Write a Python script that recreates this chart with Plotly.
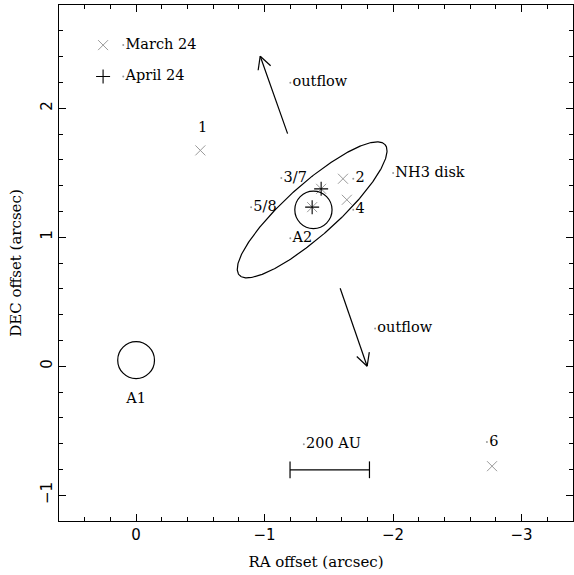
import numpy as np
import plotly.graph_objects as go

# --- maser spot positions (arcsec offsets) ---
march_ra = [-0.50, -1.61, -1.44, -1.64, -1.37, -2.77]
march_dec = [1.673, 1.453, 1.375, 1.29, 1.233, -0.775]
april_ra = [-1.44, -1.37]
april_dec = [1.375, 1.233]

# legend symbols
legend_x_ra = [0.257]
legend_x_dec = [2.489]
legend_p_ra = [0.257]
legend_p_dec = [2.246]

# labels drawn with an anchor dot
label_text = ["March 24", "April 24", "outflow", "outflow", "3/7", "5/8",
              "2", "4", "A2", "NH3 disk", "200 AU", "6"]
label_ra = [0.10, 0.10, -1.20, -1.86, -1.13, -0.895, -1.69, -1.69, -1.20, -2.00, -1.305, -2.73]
label_dec = [2.489, 2.246, 2.197, 0.293, 1.458, 1.233, 1.453, 1.212, 0.992, 1.497, -0.606, -0.588]

# centred labels without anchor dot
plain_text = ["1", "A1"]
plain_ra = [-0.517, 0.0]
plain_dec = [1.84, -0.26]

# continuum sources (centre ra, centre dec, radius)
src_ra = [0.0, -1.38]
src_dec = [0.047, 1.212]
src_r = [0.143, 0.145]

# NH3 disk ellipse: centre, semi-axes, tilt (deg, counter-clockwise on sky plot)
disk_ra, disk_dec = -1.37, 1.212
disk_a, disk_b, disk_tilt = 0.76, 0.20, 41.7

# outflow arrows: tail and head
arrow_tail_ra = [-1.179, -1.588]
arrow_tail_dec = [1.803, 0.604]
arrow_head_ra = [-0.966, -1.798]
arrow_head_dec = [2.403, 0.0]

# 200 AU scale bar
bar_ra = [-1.198, -1.816]
bar_dec = [-0.803, -0.803]

SERIF = "DejaVu Serif"
fig = go.Figure()

# disk ellipse
t = np.linspace(0, 2 * np.pi, 361)
th = np.radians(disk_tilt)
u = disk_a * np.cos(t) * np.cos(th) - disk_b * np.sin(t) * np.sin(th)
v = disk_a * np.cos(t) * np.sin(th) + disk_b * np.sin(t) * np.cos(th)
fig.add_trace(go.Scatter(x=disk_ra - u, y=disk_dec + v, mode="lines",
                         line=dict(color="black", width=1.2), hoverinfo="skip"))

# source circles
for cx, cy, r in zip(src_ra, src_dec, src_r):
    fig.add_shape(type="circle", xref="x", yref="y",
                  x0=cx + r, x1=cx - r, y0=cy - r, y1=cy + r,
                  line=dict(color="black", width=1.2))

# outflow arrows with open heads
barb_len, barb_ang = 0.11, np.radians(28)
for tx, ty, hx, hy in zip(arrow_tail_ra, arrow_tail_dec, arrow_head_ra, arrow_head_dec):
    d = np.array([tx - hx, ty - hy])
    d = d / np.hypot(*d)
    pts_x, pts_y = [tx, hx], [ty, hy]
    for s in (1, -1):
        c, sn = np.cos(s * barb_ang), np.sin(s * barb_ang)
        bx = hx + barb_len * (c * d[0] - sn * d[1])
        by = hy + barb_len * (sn * d[0] + c * d[1])
        pts_x += [None, hx, bx]
        pts_y += [None, hy, by]
    fig.add_trace(go.Scatter(x=pts_x, y=pts_y, mode="lines",
                             line=dict(color="black", width=1.2), hoverinfo="skip"))

# scale bar
fig.add_trace(go.Scatter(x=bar_ra, y=bar_dec, mode="lines+markers",
                         line=dict(color="black", width=1.2),
                         marker=dict(symbol="line-ns-open", size=12, color="black",
                                     line=dict(color="black", width=1.2)),
                         hoverinfo="skip"))

# March 24 (x) and April 24 (+) spots
fig.add_trace(go.Scatter(x=march_ra + legend_x_ra, y=march_dec + legend_x_dec,
                         mode="markers",
                         marker=dict(symbol="x-thin-open", size=10, color="#9a9a9a",
                                     line=dict(color="#9a9a9a", width=1))))
fig.add_trace(go.Scatter(x=april_ra + legend_p_ra, y=april_dec + legend_p_dec,
                         mode="markers",
                         marker=dict(symbol="cross-thin-open", size=10, color="black",
                                     line=dict(color="black", width=1.1))))

# labels with anchor dots
fig.add_trace(go.Scatter(x=label_ra, y=label_dec, mode="markers+text",
                         text=label_text, textposition="middle right",
                         marker=dict(size=2, color="#999999", line=dict(width=0)),
                         textfont=dict(family=SERIF, size=14.5, color="black")))
fig.add_trace(go.Scatter(x=plain_ra, y=plain_dec, mode="text",
                         text=plain_text, textposition="middle center",
                         textfont=dict(family=SERIF, size=14.5, color="black")))

axis_common = dict(
    showgrid=False, zeroline=False, showline=True, linecolor="black", linewidth=1.2,
    mirror="allticks", ticks="inside", ticklen=7, tickwidth=1.2, tickcolor="black",
    dtick=1, tickfont=dict(family="DejaVu Sans", size=15, color="black"),
    minor=dict(ticks="inside", ticklen=4, tickwidth=1, tickcolor="black", dtick=0.2),
)
fig.update_xaxes(range=[0.6, -3.4], tick0=0, tickformat="d",
                 title=dict(text="RA offset (arcsec)", font=dict(family=SERIF, size=15, color="black"),
                            standoff=13),
                 **axis_common)
fig.update_yaxes(range=[-1.2, 2.8], tick0=0, tickangle=-90, tickformat="d",
                 title=dict(text="DEC offset (arcsec)", font=dict(family=SERIF, size=15, color="black"),
                            standoff=12),
                 **axis_common)
fig.update_layout(width=574, height=575, showlegend=False,
                  margin=dict(l=59, r=1, t=5, b=54),
                  paper_bgcolor="white", plot_bgcolor="white")

fig.write_html("out.html")
